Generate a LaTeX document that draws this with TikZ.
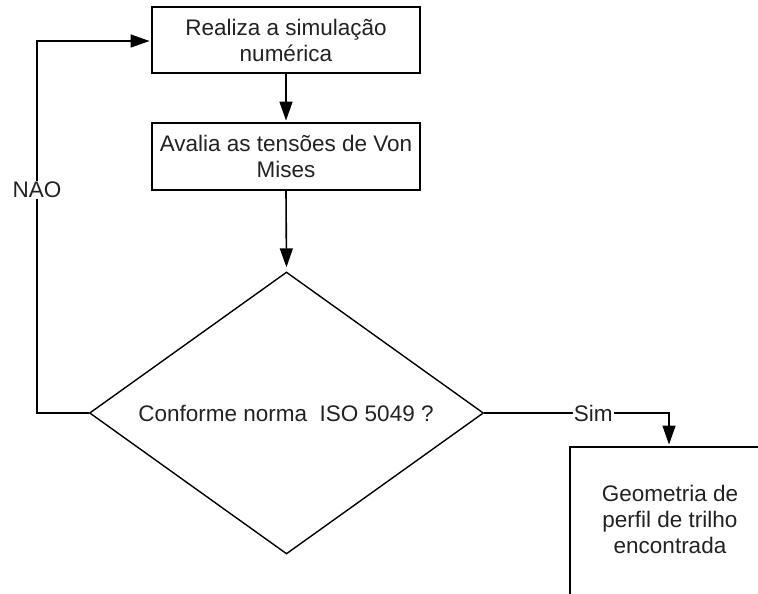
\documentclass[tikz,border=0pt]{standalone}
\usepackage{fontspec}
\setmainfont{Liberation Sans}
\usetikzlibrary{arrows.meta,shapes.geometric}
\definecolor{txt}{HTML}{222222}
\begin{document}
\begin{tikzpicture}[x=1pt,y=-1pt,
  every node/.style={font=\fontsize{22.5}{26}\selectfont, text=txt},
  procbox/.style={draw=black, line width=1.9pt, minimum width=268pt, minimum height=66pt, align=center, inner sep=0pt},
  decision/.style={draw=black, line width=1.4pt, diamond, aspect=1.39, minimum width=394pt, minimum height=282pt, inner sep=0pt},
  conn/.style={line width=1.6pt, -{Triangle[length=19pt,width=13pt]}, shorten >=1.5pt},
  lbl/.style={fill=white, inner sep=1pt}]
\clip (0,0) rectangle (758,594);
\fill[white] (0,0) rectangle (758,594);
\node[procbox] (sim) at (286,40) {Realiza a simulação\\numérica};
\node[procbox, minimum height=67pt] (aval) at (286,156.5) {Avalia as tensões de Von\\Mises};
\node[decision] (dec) at (286.5,413) {};
\node (dectext) at (286,413) {Conforme norma\ \ ISO 5049 ?};
\node[draw=black, line width=1.9pt, minimum width=200pt, minimum height=180pt, inner sep=0pt] (geo) at (670,537) {};
\node[align=center] (geotext) at (670,519) {Geometria de\\perfil de trilho\\encontrada};
\coordinate (nl) at (37,413);
\coordinate (nu) at (37,41);
\coordinate (sr) at (669,413);
\draw[conn] (sim.south) -- (aval.north);
\draw[conn, shorten >=4pt] (aval.south) -- (dec.north);
\draw[conn] (dec.west) -- (nl) -- node[lbl, pos=0.6] (nao) {NAO} (nu) -- (sim.west |- nu);
\draw[conn] (dec.east) -- node[lbl, pos=0.59] (simlbl) {Sim} (sr) -- (sr |- geo.north);
\end{tikzpicture}
\end{document}
